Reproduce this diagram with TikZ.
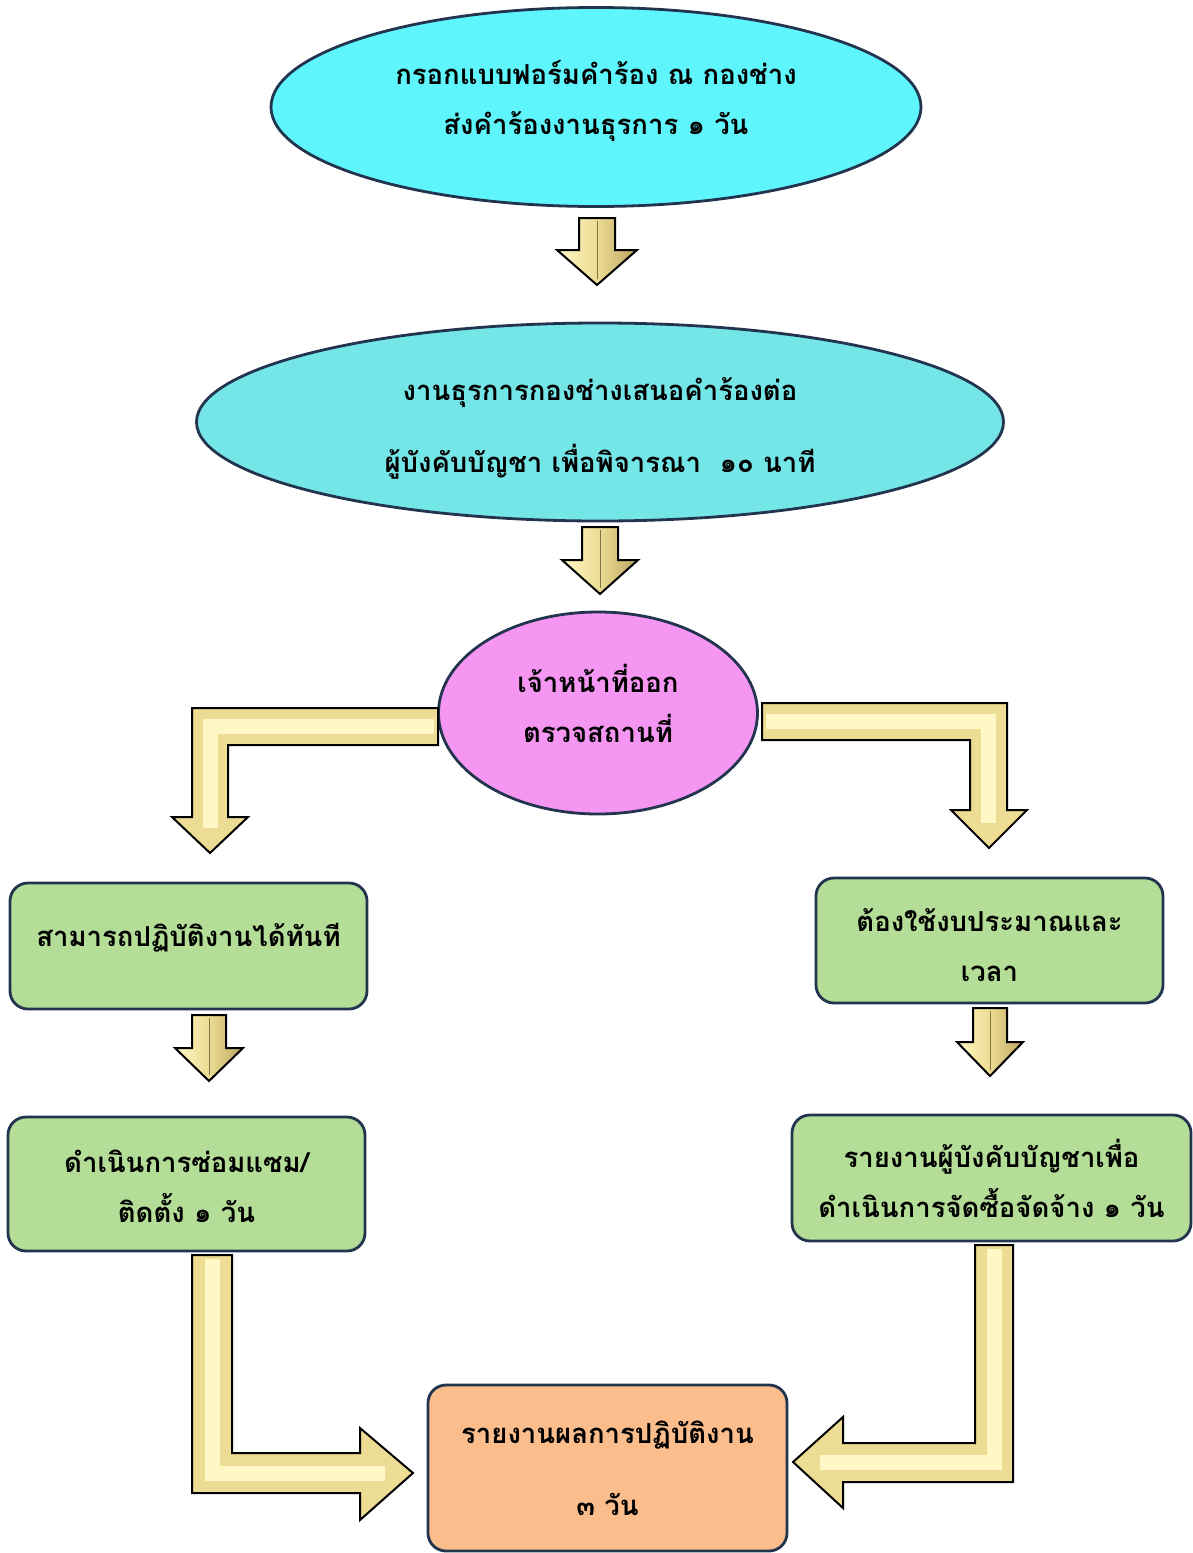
\documentclass[tikz,border=0pt]{standalone}
\usepackage{fontspec}
\newfontfamily\thaifont[Script=Thai]{Loma}
\usetikzlibrary{shapes.geometric}
\definecolor{cyanA}{HTML}{5EF6FC}
\definecolor{cyanB}{HTML}{75E6E8}
\definecolor{pinkA}{HTML}{F597F2}
\definecolor{greenA}{HTML}{B4DE97}
\definecolor{orangeA}{HTML}{FBBD8C}
\definecolor{edgeA}{HTML}{22344E}
\definecolor{arrowFill}{HTML}{EDDC93}
\definecolor{arrowHi}{HTML}{FFF8C6}
\definecolor{arrowLo}{HTML}{B9A461}
\tikzset{
  txt/.style={font=\thaifont\bfseries\fontsize{27.5}{50}\selectfont, align=center, inner sep=0pt, text=black},
  ellbox/.style={ellipse, draw=edgeA, line width=2.8pt, inner sep=0pt},
  rbox/.style={rectangle, rounded corners=18pt, draw=edgeA, line width=2.8pt, fill=greenA, inner sep=0pt},
  blockarrow/.style={draw=black, line width=2pt, line join=miter, left color=arrowHi, right color=arrowLo, middle color=arrowFill},
  elbowarrow/.style={draw=black, line width=2pt, line join=miter, fill=arrowFill},
  elbowhi/.style={draw=arrowHi, line width=15pt, line join=miter, line cap=butt}
}
\newcommand\dnarrow[6]{%
  \path[blockarrow] (#1-#5,#2) -- (#1+#5,#2) -- (#1+#5,#3) -- (#1+#6,#3) -- (#1,#4) -- (#1-#6,#3) -- (#1-#5,#3) -- cycle;
  \draw[arrowLo!70!black, line width=0.8pt] (#1,#2+3) -- (#1,#4-6);}
\begin{document}
\begin{tikzpicture}[x=1pt,y=-1pt]
\useasboundingbox (0,0) rectangle (1193,1553);
\fill[white] (0,0) rectangle (1193,1553);

% shapes
\node[ellbox, fill=cyanA, minimum width=650pt, minimum height=199pt] (e1) at (596,107) {};
\node[ellbox, fill=cyanB, minimum width=807pt, minimum height=198pt] (e2) at (600,422) {};
\node[ellbox, fill=pinkA, minimum width=319pt, minimum height=202pt] (e3) at (598,713) {};
\node[rbox, minimum width=357pt, minimum height=126pt] (b1) at (188.5,946) {};
\node[rbox, minimum width=357pt, minimum height=134pt] (b2) at (186.5,1184) {};
\node[rbox, minimum width=347pt, minimum height=125pt] (b3) at (989.5,940.5) {};
\node[rbox, minimum width=399pt, minimum height=126pt] (b4) at (991.5,1178) {};
\node[rbox, fill=orangeA, minimum width=359pt, minimum height=166pt] (b5) at (607.5,1468) {};

% texts
\node[txt, yshift=6pt] (t1) at (e1.center) {กรอกแบบฟอร์มคำร้อง ณ กองช่าง\\ส่งคำร้องงานธุรการ ๑ วัน};
\node[txt, yshift=-6pt] (t2) at (e2.center) {งานธุรการกองช่างเสนอคำร้องต่อ\\[22pt]ผู้บังคับบัญชา เพื่อพิจารณา~ ๑๐ นาที};
\node[txt, yshift=10pt] (t3) at (e3.center) {เจ้าหน้าที่ออก\\ตรวจสถานที่};
\node[txt, yshift=8pt] (t4) at (b1.center) {สามารถปฏิบัติงานได้ทันที};
\node[txt, yshift=-2pt] (t5) at (b2.center) {ดำเนินการซ่อมแซม/\\ติดตั้ง ๑ วัน};
\node[txt, yshift=-5pt] (t6) at (b3.center) {ต้องใช้งบประมาณและ\\เวลา};
\node[txt] (t7) at (b4.center) {รายงานผู้บังคับบัญชาเพื่อ\\ดำเนินการจัดซื้อจัดจ้าง ๑ วัน};
\node[txt] (t8) at (b5.center) {รายงานผลการปฏิบัติงาน\\[22pt]๓ วัน};

% straight down arrows
\dnarrow{597}{218}{250}{285}{18}{40}
\dnarrow{600}{527}{560}{594}{18}{38}
\dnarrow{209}{1015}{1048}{1081}{17}{34}
\dnarrow{990}{1008}{1042}{1076}{17}{33}

% elbow arrow: pink ellipse -> left box
\path[elbowarrow] (438,708) -- (192,708) -- (192,817) -- (172,817) -- (210,853) -- (248,817) -- (228,817) -- (228,745) -- (438,745) -- cycle;
\draw[elbowhi] (434,726.5) -- (210,726.5) -- (210,828);
% elbow arrow: pink ellipse -> right box
\path[elbowarrow] (762,703) -- (1007,703) -- (1007,810) -- (1027,810) -- (989,848) -- (951,810) -- (970,810) -- (970,740) -- (762,740) -- cycle;
\draw[elbowhi] (766,721.5) -- (988.5,721.5) -- (988.5,823);
% elbow arrow: left bottom box -> orange box
\path[elbowarrow] (192,1255) -- (232,1255) -- (232,1453) -- (360,1453) -- (360,1428) -- (413,1473) -- (360,1520) -- (360,1493) -- (192,1493) -- cycle;
\draw[elbowhi] (212,1259) -- (212,1473) -- (385,1473);
% elbow arrow: right bottom box -> orange box
\path[elbowarrow] (975,1245) -- (1013,1245) -- (1013,1482) -- (843,1482) -- (843,1508) -- (793,1462) -- (843,1417) -- (843,1443) -- (975,1443) -- cycle;
\draw[elbowhi] (994,1249) -- (994,1462.5) -- (820,1462.5);
\end{tikzpicture}
\end{document}
